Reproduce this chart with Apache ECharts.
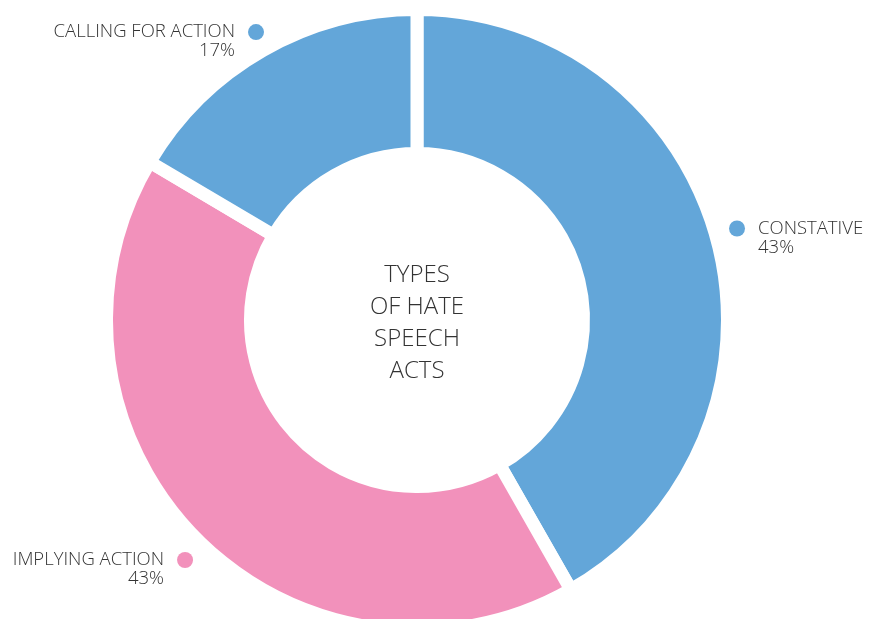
<!DOCTYPE html>
<html>
<head>
<meta charset="utf-8">
<title>Types of hate speech acts</title>
<script src="https://cdn.jsdelivr.net/npm/echarts@6/dist/echarts.min.js"></script>
<style>
  html, body { margin: 0; padding: 0; background: #fff; }
  #main { width: 869px; height: 619px; }
</style>
</head>
<body>
<div id="main"></div>
<script>
var categories = ['CONSTATIVE', 'IMPLYING ACTION', 'CALLING FOR ACTION'];
var shares = [43, 43, 17];
var centerTitle = 'TYPES\nOF HATE\nSPEECH\nACTS';

var colors = ['#63a6d9', '#f291bb', '#63a6d9'];
// hidden label line [length, length2] per slice, to put each label where the original has it
var labelLines = [[9.4, 2.8], [45.1, -29.4], [10.1, -5.9]];

var cx = 417, cy = 320;
var font = '"Open Sans", "Lato", sans-serif';
var textColor = '#333';

// which side of the ring each label sits on
var total = shares.reduce(function (a, b) { return a + b; }, 0);
var acc = 0;
var rightSide = shares.map(function (v) {
  var mid = (acc + v / 2) / total;
  acc += v;
  return mid < 0.5;
});

var rich = {
  t: { fontFamily: font, fontWeight: 300, fontSize: 18.5, lineHeight: 19, color: textColor },
  g: { width: 13 },
  sp: { width: 29 }
};
colors.forEach(function (c, i) {
  rich['d' + i] = { width: 16, height: 16, borderRadius: 8, backgroundColor: c };
});

var pieData = categories.map(function (name, i) {
  return {
    name: name,
    value: shares[i],
    itemStyle: { color: colors[i] },
    labelLine: { show: false, length: labelLines[i][0], length2: labelLines[i][1] }
  };
});

var myChart = echarts.init(document.getElementById('main'));

var option = {
  animation: false,
  backgroundColor: '#fff',
  series: [{
    type: 'pie',
    center: [cx, cy],
    radius: [166.5, 310.5],
    startAngle: 90,
    clockwise: true,
    avoidLabelOverlap: false,
    itemStyle: { borderColor: '#fff', borderWidth: 13 },
    label: {
      show: true,
      position: 'outside',
      distanceToLabelLine: 0,
      formatter: function (p) {
        var i = p.dataIndex;
        if (rightSide[i]) {
          return '{d' + i + '| }{g| }{t|' + p.name + '}\n{sp| }{t|' + p.value + '%}';
        }
        return '{t|' + p.name + '}{g| }{d' + i + '| }\n{t|' + p.value + '%}{sp| }';
      },
      rich: rich
    },
    emphasis: { disabled: true },
    data: pieData
  }],
  graphic: [{
    type: 'text',
    x: cx,
    y: cy + 3,
    silent: true,
    style: {
      text: centerTitle,
      align: 'center',
      verticalAlign: 'middle',
      fontFamily: font,
      fontWeight: 300,
      fontSize: 24,
      lineHeight: 32,
      fill: textColor
    }
  }]
};

myChart.setOption(option);
</script>
</body>
</html>
